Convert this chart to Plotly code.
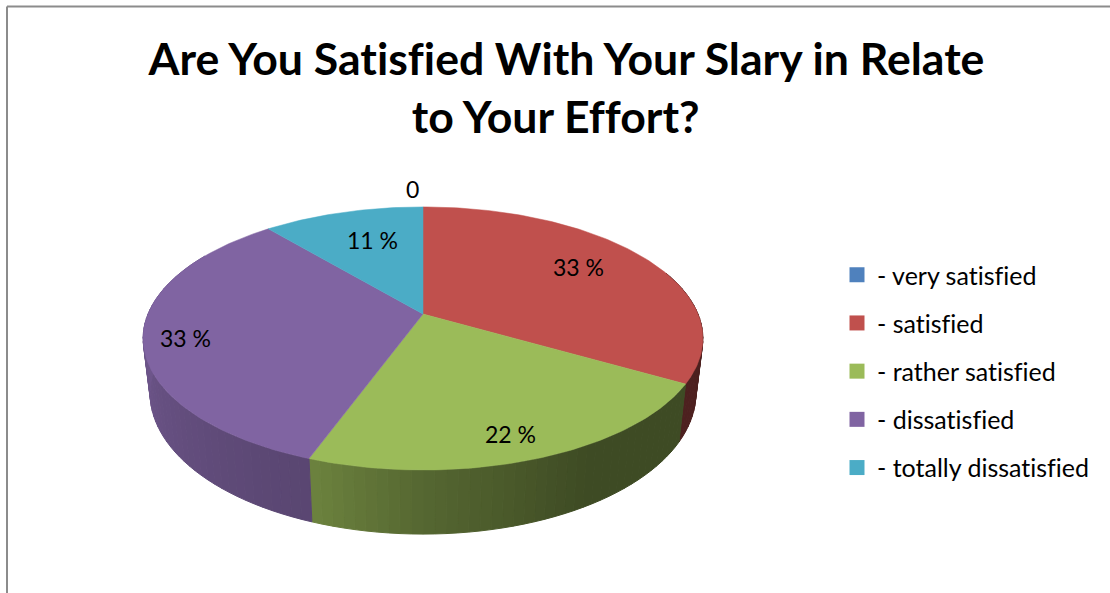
import math
import plotly.graph_objects as go

# ---- data ----
CATEGORIES = ["- very satisfied", "- satisfied", "- rather satisfied", "- dissatisfied", "- totally dissatisfied"]
PERCENT = [0, 33, 22, 33, 11]
LABELS = ["0", "33 %", "22 %", "33 %", "11 %"]
COLORS = ["#4F81BD", "#C0504D", "#9BBB59", "#8064A2", "#4BACC6"]
TITLE_LINES = ["Are You Satisfied With Your Slary in Relate", "to Your Effort?\u00a0\u00a0"]

# ---- geometry of the tilted pie ----
W, H = 1110, 593
CX, CY = 423, 314
K, RX, RY = 0.186, 275, 127
WALL_X, WALL_CY, WALL_RY = 0.975, 367, 136
LABEL_POS = [(412, 189), (578, 267), (510, 434), (185, 338), (372, 240)]
SHADE_ANGLE = [0, 150, 180, 200, 210, 270, 290, 360]
SHADE_VALUE = [0.40, 0.40, 0.55, 0.70, 0.72, 0.87, 0.90, 0.90]


def top_point(a):
    t = math.radians(a)
    u, v = math.sin(t), math.cos(t)
    w = 1 + K * v
    return CX + RX * u / w, CY - RY * v / w


def wall_point(a):
    t = math.radians(a)
    u, v = math.sin(t), math.cos(t)
    w = 1 + K * v
    return CX + WALL_X * RX * u / w, WALL_CY - WALL_RY * v / w


def shade(a):
    for i in range(len(SHADE_ANGLE) - 1):
        if SHADE_ANGLE[i] <= a <= SHADE_ANGLE[i + 1]:
            f = (a - SHADE_ANGLE[i]) / (SHADE_ANGLE[i + 1] - SHADE_ANGLE[i])
            return SHADE_VALUE[i] + f * (SHADE_VALUE[i + 1] - SHADE_VALUE[i])
    return SHADE_VALUE[-1]


def scaled(hex_color, f):
    r, g, b = (int(hex_color[i:i + 2], 16) for i in (1, 3, 5))
    return f"rgb({r * f:.0f},{g * f:.0f},{b * f:.0f})"


total = sum(PERCENT)
spans = []
start = 0.0
for p in PERCENT:
    end = start + 360 * p / total
    spans.append((start, end))
    start = end

fig = go.Figure()

# side wall, drawn as thin shaded facets from the data angles
STEP = 2.0
for (a0, a1), col in zip(spans, COLORS):
    if a1 <= a0:
        continue
    n = max(1, int((a1 - a0) / STEP))
    for i in range(n):
        b0 = a0 + (a1 - a0) * i / n
        b1 = a0 + (a1 - a0) * (i + 1) / n
        mid = (b0 + b1) / 2
        if not 70 <= mid <= 300:
            continue
        c = scaled(col, shade(mid))
        p = [top_point(b0), top_point(b1), wall_point(b1), wall_point(b0)]
        fig.add_trace(go.Scatter(
            x=[q[0] for q in p] + [p[0][0]], y=[q[1] for q in p] + [p[0][1]],
            mode="lines", fill="toself", fillcolor=c, line=dict(color=c, width=1),
            showlegend=False, hoverinfo="skip"))

# top face
for (a0, a1), col, name, pct in zip(spans, COLORS, CATEGORIES, PERCENT):
    if a1 <= a0:
        continue
    n = max(2, int(a1 - a0))
    arc = [top_point(a0 + (a1 - a0) * i / n) for i in range(n + 1)]
    xs = [CX] + [q[0] for q in arc] + [CX]
    ys = [CY] + [q[1] for q in arc] + [CY]
    fig.add_trace(go.Scatter(x=xs, y=ys, mode="lines", fill="toself", fillcolor=col,
                             line=dict(color=col, width=0.5), showlegend=False,
                             name=name, text=f"{pct} %", hoverinfo="name+text"))

# legend
for i, (name, col) in enumerate(zip(CATEGORIES, COLORS)):
    fig.add_trace(go.Scatter(x=[None], y=[None], mode="markers", name=name, legendgroup=str(i),
                             marker=dict(symbol="square", size=15, color=col), showlegend=True))

annotations = [dict(x=x, y=y, xref="x", yref="y", text=t, showarrow=False,
                    font=dict(family="Lato", size=23, color="black"))
               for (x, y), t in zip(LABEL_POS, LABELS)]

fig.update_layout(
    width=W, height=H, margin=dict(l=0, r=0, t=0, b=0, pad=0),
    paper_bgcolor="white", plot_bgcolor="white", hovermode="closest",
    xaxis=dict(range=[0, W], visible=False, fixedrange=True),
    yaxis=dict(range=[H, 0], visible=False, fixedrange=True),
    title=dict(text="<b>" + "<br>".join(TITLE_LINES) + "</b>", x=566.5 / W, xanchor="center",
               y=1 - 75 / H, yanchor="top", font=dict(family="Lato", size=44.6, color="black")),
    legend=dict(x=837 / W, xanchor="left", y=1 - 252 / H, yanchor="top", tracegroupgap=12.7,
                bgcolor="rgba(0,0,0,0)", font=dict(family="Lato", size=25, color="black"),
                itemclick=False, itemdoubleclick=False),
    annotations=annotations,
    shapes=[
        dict(type="line", xref="x", yref="y", x0=7, x1=W, y0=6.5, y1=6.5, line=dict(color="#8c8c8c", width=2)),
        dict(type="line", xref="x", yref="y", x0=7, x1=7, y0=6.5, y1=H, line=dict(color="#8c8c8c", width=2)),
    ],
)

POST = ("document.body.style.margin='0';document.body.style.overflow='hidden';"
        "var s=document.createElement('style');"
        "s.textContent='text{font-variant-ligatures:none !important}';"
        "document.head.appendChild(s);")
fig.write_html("out.html", post_script=POST, config={"displayModeBar": False})
